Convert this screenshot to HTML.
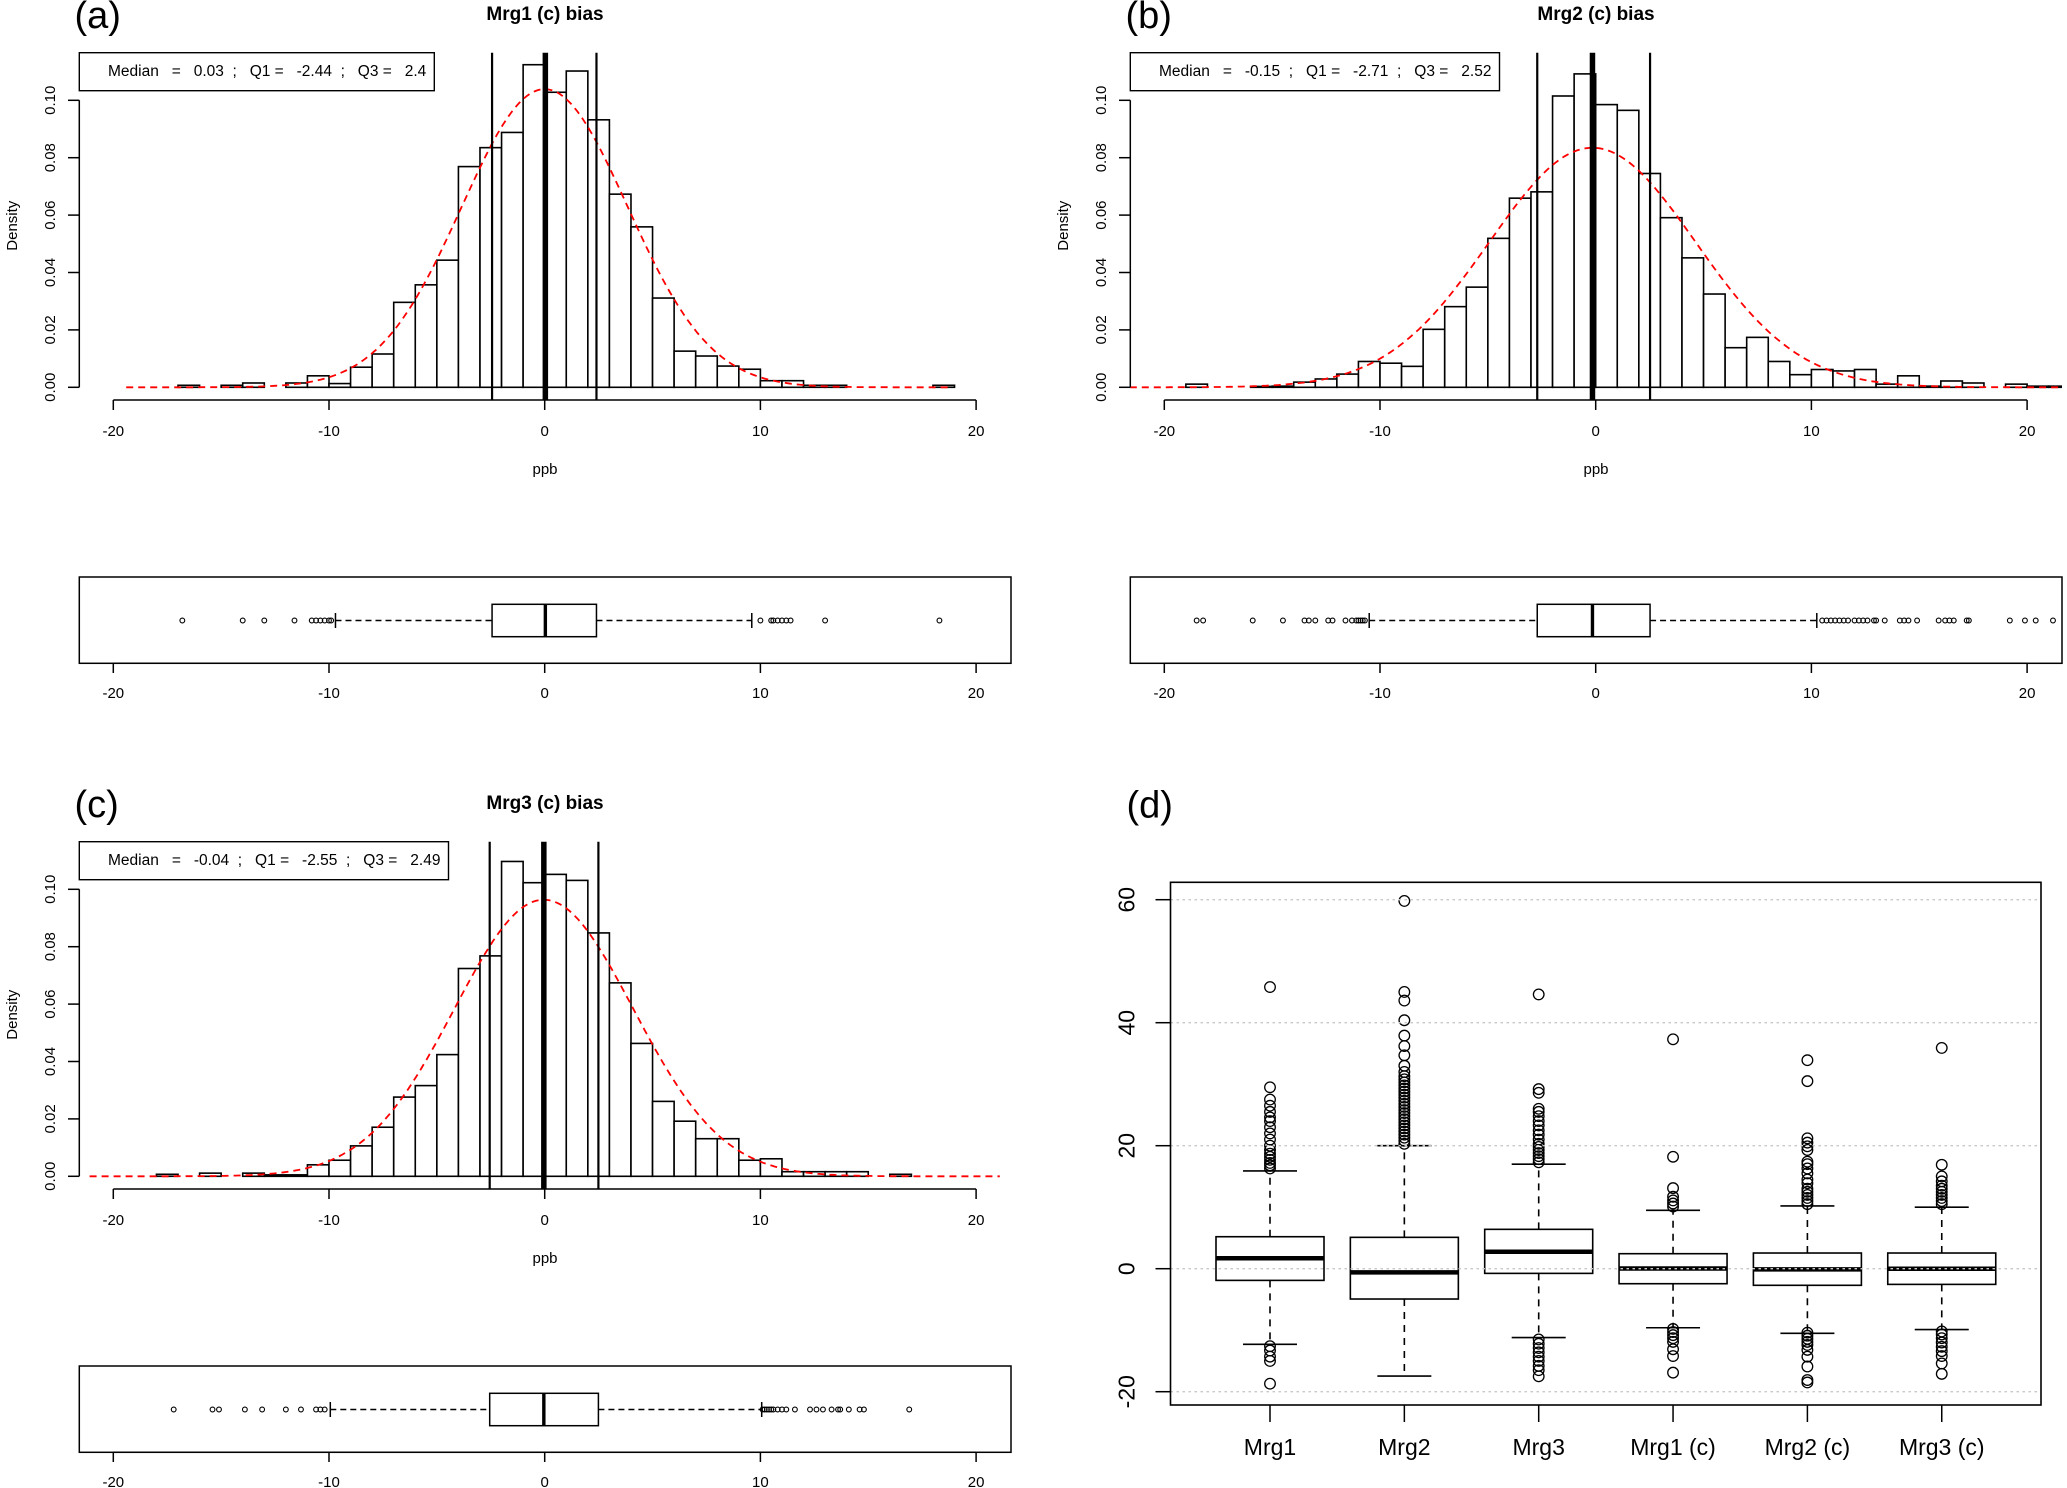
<!DOCTYPE html>
<html><head><meta charset="utf-8">
<style>
html,body{margin:0;padding:0;background:#fff;}
svg{display:block;font-family:"Liberation Sans",Arial,sans-serif;}
svg text{white-space:pre;}
</style></head>
<body>
<svg id="fig" width="2067" height="1488" viewBox="0 0 2067 1488" xmlns="http://www.w3.org/2000/svg">
<rect x="0" y="0" width="2067" height="1488" fill="#fff"/>
</svg>
<script>
// ---------- data: panel (a) Mrg1 (c) ----------
const histA_start = -17;
const histA_density = [0.0007,0,0.0007,0.0015,0,0.0015,0.004,0.0013,0.007,0.0116,0.0296,0.0357,0.0443,0.0769,0.0835,0.0888,0.1124,0.1028,0.1102,0.0932,0.0673,0.0559,0.0311,0.0126,0.0109,0.0074,0.0063,0.0023,0.0023,0.0007,0.0007,0,0,0,0,0.0007,0,0];
const statsA = [0.03, -2.44, 2.4];          // median, Q1, Q3
const normA = [0.0, 3.84, -19.4, 18.8];      // mean, sd, from, to
const whiskA = [-9.7, 9.6];
const outA = [-16.8,-14.0,-13.0,-11.6,-10.8,-10.6,-10.4,-10.2,-10.0,-9.9,10.0,10.5,10.6,10.8,11.0,11.2,11.4,13.0,18.3];

// ---------- data: panel (b) Mrg2 (c) ----------
const histB_start = -19;
const histB_density = [0.0011,0,0,0.0003,0.0004,0.0018,0.0029,0.0046,0.009,0.0084,0.0073,0.0202,0.0281,0.0349,0.0519,0.0659,0.0681,0.1015,0.1092,0.0985,0.0965,0.0745,0.0591,0.0451,0.0325,0.0138,0.0174,0.009,0.0044,0.0062,0.0057,0.0062,0.0011,0.004,0.0004,0.0022,0.0015,0,0.0011,0.0004,0.0004];
const statsB = [-0.15, -2.71, 2.52];
const normB = [-0.15, 4.78, -21.6, 21.6];
const whiskB = [-10.5, 10.25];
const outB = [-18.5,-18.2,-15.9,-14.5,-13.5,-13.3,-13.0,-12.4,-12.2,-11.6,-11.3,-11.1,-11.0,-10.9,-10.8,-10.7,10.5,10.7,10.9,11.1,11.3,11.5,11.7,12.0,12.2,12.4,12.6,12.9,13.0,13.4,14.1,14.3,14.5,14.9,15.9,16.2,16.4,16.6,17.2,17.3,19.2,19.9,20.4,21.2];

// ---------- data: panel (c) Mrg3 (c) ----------
const histC_start = -18;
const histC_density = [0.0007,0,0.0011,0,0.0011,0.0005,0.0005,0.004,0.0056,0.0106,0.0171,0.0276,0.0316,0.0424,0.0724,0.0768,0.1097,0.1023,0.1052,0.1031,0.0848,0.0674,0.0463,0.0261,0.0192,0.0131,0.0131,0.0056,0.0061,0.0016,0.0016,0.0016,0.0016,0,0.0007,0,0,0,0,0];
const statsC = [-0.04, -2.55, 2.49];
const normC = [-0.04, 4.14, -21.1, 21.1];
const whiskC = [-9.94, 10.06];
const outC = [-17.2,-15.4,-15.1,-13.9,-13.1,-12.0,-11.3,-10.6,-10.4,-10.2,10.1,10.2,10.3,10.4,10.5,10.6,10.8,11.0,11.2,11.6,12.3,12.6,12.9,13.3,13.6,13.7,14.1,14.6,14.8,16.9];

const xTicks = [-20,-10,0,10,20];
const yTicks = [0,0.02,0.04,0.06,0.08,0.10];
const yTickLabels = ["0.00","0.02","0.04","0.06","0.08","0.10"];

// ---------- data: panel (d) ----------
const dCats = ["Mrg1","Mrg2","Mrg3","Mrg1 (c)","Mrg2 (c)","Mrg3 (c)"];
const dQ1 = [-1.9,-4.93,-0.76,-2.44,-2.7,-2.55];
const dMed = [1.7,-0.6,2.75,0.03,-0.1,0.0];
const dQ3 = [5.2,5.1,6.4,2.44,2.55,2.55];
const dLo = [-12.3,-17.45,-11.2,-9.6,-10.5,-9.9];
const dHi = [15.9,20.0,17.0,9.5,10.2,10.0];
const dOut0 = [-12.6,-13.3,-14.3,-15,-18.7,16.3,16.8,17.2,17.7,18.2,18.7,19.3,20,21,22,23,24,24.6,25.5,26.5,27.5,29.5,45.8];
const dOut1 = [20.3,20.8,21.3,21.8,22.3,22.8,23.3,23.8,24.3,24.8,25.3,25.8,26.3,26.8,27.3,27.8,28.3,28.8,29.3,29.8,30.3,30.8,31.3,32,33,34.7,36.2,37.9,40.4,43.6,45,59.8];
const dOut2 = [17.3,17.8,18.3,18.8,19.3,19.8,20.3,21,21.8,22.5,23.3,24,24.8,25.5,26,28.6,29.2,44.6,-11.5,-12.2,-12.9,-13.6,-14.3,-15,-15.8,-16.5,-17.5];
const dOut3 = [10.1,10.6,11.1,11.7,13.1,18.2,37.3,-9.8,-10.3,-10.8,-11.3,-11.9,-13.1,-14.2,-16.9];
const dOut4 = [10.5,11,11.5,12,12.5,13,13.9,14.5,15.5,16.3,17,17.4,19.3,19.9,20.5,21.2,30.5,33.9,-10.4,-10.9,-11.4,-11.9,-12.4,-13.2,-14.3,-15.9,-18.1,-18.5];
const dOut5 = [10.5,11,11.5,12,12.5,13,13.5,14.2,15,16.9,35.9,-10.2,-10.7,-11.3,-12,-12.7,-13.4,-14.2,-15.4,-17.1];
const dOutliers = [dOut0,dOut1,dOut2,dOut3,dOut4,dOut5];
const dYTicks = [-20,0,20,40,60];

// ---------- helpers ----------
const NS = "http://www.w3.org/2000/svg";
const svg = document.getElementById("fig");
function mk(parent, tag, attrs, name) {
  const el = document.createElementNS(NS, tag);
  for (const k in attrs) el.setAttribute(k, attrs[k]);
  
  
  parent.appendChild(el);
  return el;
}
function txt(parent, x, y, s, size, name, extra) {
  const t = mk(parent, "text", Object.assign({x:x, y:y, "font-size":size, fill:"#000"}, extra || {}), name);
  t.textContent = s;
  return t;
}

// ---------- histogram panels ----------
function histPanel(id, dx, dy, label, title, start, dens, stats, norm, whisk, outs, legendRight, legendText) {
  const g = mk(svg, "g", {transform:"translate(" + dx + "," + dy + ")"}, "panel-" + id);
  const X = v => 544.7 + 21.57 * v;
  const Y = d => 387.3 - 2870 * d;
  const BY = 620.5;
  const plotL = 79.3, plotR = 1011;
  const cp = mk(g, "clipPath", {id:"clip-" + id}, "clip");
  mk(cp, "rect", {x:plotL, y:0, width:plotR - plotL, height:420}, "clip-rect");
  txt(g, 74.5, 28, label, 38, "panel-label");
  txt(g, 545, 20, title, 19, "panel-title", {"font-weight":"bold", "text-anchor":"middle"});
  const bars = mk(g, "g", {"clip-path":"url(#clip-" + id + ")"}, "histogram-bars");
  dens.forEach((d, i) => {
    const x0 = X(start + i), x1 = X(start + i + 1);
    mk(bars, "rect", {x:x0, y:Y(d), width:x1 - x0, height:Math.max(0, Y(0) - Y(d)), fill:"#fff", stroke:"#000", "stroke-width":1.6}, "histogram-bar");
  });
  let pts = [];
  for (let k = 0; k <= 300; k++) {
    const v = norm[2] + (norm[3] - norm[2]) * k / 300;
    const d = Math.exp(-0.5 * Math.pow((v - norm[0]) / norm[1], 2)) / (norm[1] * Math.sqrt(2 * Math.PI));
    pts.push(X(v).toFixed(1) + "," + Y(d).toFixed(1));
  }
  mk(g, "polyline", {points:pts.join(" "), fill:"none", stroke:"#ff0000", "stroke-width":1.8, "stroke-dasharray":"7,5", "clip-path":"url(#clip-" + id + ")"}, "normal-density-curve");
  mk(g, "line", {x1:X(stats[1]), x2:X(stats[1]), y1:52.7, y2:400, stroke:"#000", "stroke-width":2.2}, "q1-line");
  mk(g, "line", {x1:X(stats[2]), x2:X(stats[2]), y1:52.7, y2:400, stroke:"#000", "stroke-width":2.2}, "q3-line");
  mk(g, "line", {x1:X(stats[0]), x2:X(stats[0]), y1:52.7, y2:400, stroke:"#000", "stroke-width":5.5}, "median-line");
  mk(g, "rect", {x:79.3, y:52.7, width:legendRight - 79.3, height:38, fill:"#fff", stroke:"#000", "stroke-width":1.4}, "stats-legend-box");
  txt(g, 108, 76, legendText, 15.5, "stats-legend-text", {textLength:legendRight - 8 - 108, lengthAdjust:"spacingAndGlyphs"});
  mk(g, "line", {x1:plotL, x2:plotL, y1:Y(0), y2:Y(0.10), stroke:"#000", "stroke-width":1.5}, "y-axis-line");
  yTicks.forEach((v, i) => {
    mk(g, "line", {x1:68, x2:plotL, y1:Y(v), y2:Y(v), stroke:"#000", "stroke-width":1.5}, "y-tick");
    txt(g, 0, 0, yTickLabels[i], 15, "y-tick-label", {"text-anchor":"middle", transform:"translate(55," + Y(v) + ") rotate(-90)"});
  });
  txt(g, 0, 0, "Density", 15, "y-axis-title", {"text-anchor":"middle", transform:"translate(17,225.7) rotate(-90)"});
  mk(g, "line", {x1:X(-20), x2:X(20), y1:400, y2:400, stroke:"#000", "stroke-width":1.5}, "x-axis-line");
  xTicks.forEach(v => {
    mk(g, "line", {x1:X(v), x2:X(v), y1:400, y2:410, stroke:"#000", "stroke-width":1.5}, "x-tick");
    txt(g, X(v), 436, String(v), 15, "x-tick-label", {"text-anchor":"middle"});
  });
  txt(g, 545, 474, "ppb", 15, "x-axis-title", {"text-anchor":"middle"});
  const bp = mk(g, "g", {}, "horizontal-boxplot");
  mk(bp, "rect", {x:plotL, y:577, width:plotR - plotL, height:86.3, fill:"none", stroke:"#000", "stroke-width":1.5}, "boxplot-frame");
  mk(bp, "line", {x1:X(whisk[0]), x2:X(stats[1]), y1:BY, y2:BY, stroke:"#000", "stroke-width":1.4, "stroke-dasharray":"6,4"}, "lower-whisker");
  mk(bp, "line", {x1:X(stats[2]), x2:X(whisk[1]), y1:BY, y2:BY, stroke:"#000", "stroke-width":1.4, "stroke-dasharray":"6,4"}, "upper-whisker");
  mk(bp, "line", {x1:X(whisk[0]), x2:X(whisk[0]), y1:BY - 7.5, y2:BY + 7.5, stroke:"#000", "stroke-width":1.5}, "lower-whisker-cap");
  mk(bp, "line", {x1:X(whisk[1]), x2:X(whisk[1]), y1:BY - 7.5, y2:BY + 7.5, stroke:"#000", "stroke-width":1.5}, "upper-whisker-cap");
  mk(bp, "rect", {x:X(stats[1]), y:604.3, width:X(stats[2]) - X(stats[1]), height:32.4, fill:"#fff", stroke:"#000", "stroke-width":1.5}, "box");
  mk(bp, "line", {x1:X(stats[0]), x2:X(stats[0]), y1:604.3, y2:636.7, stroke:"#000", "stroke-width":3.4}, "box-median");
  outs.forEach(v => {
    mk(bp, "circle", {cx:X(v), cy:BY, r:2.4, fill:"none", stroke:"#000", "stroke-width":1.1}, "outlier-point");
  });
  mk(bp, "line", {x1:X(-20), x2:X(20), y1:663.3, y2:663.3, stroke:"#000", "stroke-width":1.5}, "boxplot-x-axis");
  xTicks.forEach(v => {
    mk(bp, "line", {x1:X(v), x2:X(v), y1:663.3, y2:673, stroke:"#000", "stroke-width":1.5}, "boxplot-x-tick");
    txt(bp, X(v), 698, String(v), 15, "boxplot-x-tick-label", {"text-anchor":"middle"});
  });
}

histPanel("a", 0, 0, "(a)", "Mrg1 (c) bias", histA_start, histA_density, statsA, normA, whiskA, outA, 434.3,
  "Median   =   0.03  ;   Q1 =   -2.44  ;   Q3 =   2.4");
histPanel("b", 1051, 0, "(b)", "Mrg2 (c) bias", histB_start, histB_density, statsB, normB, whiskB, outB, 448.5,
  "Median   =   -0.15  ;   Q1 =   -2.71  ;   Q3 =   2.52");
histPanel("c", 0, 789, "(c)", "Mrg3 (c) bias", histC_start, histC_density, statsC, normC, whiskC, outC, 448.5,
  "Median   =   -0.04  ;   Q1 =   -2.55  ;   Q3 =   2.49");

// ---------- panel (d) ----------
(function(){
  const g = mk(svg, "g", {}, "panel-d");
  const L = 1170.5, R = 2041, T = 882.3, B = 1405;
  const Y = v => 1268.7 - 6.15 * v;
  const X = i => 1270 + 134.35 * i;
  txt(g, 1126.5, 817.7, "(d)", 38, "panel-label");
  dCats.forEach((c, i) => {
    const cx = X(i);
    mk(g, "line", {x1:cx, x2:cx, y1:Y(dQ3[i]), y2:Y(dHi[i]), stroke:"#000", "stroke-width":1.6, "stroke-dasharray":"7,6"}, "upper-whisker");
    mk(g, "line", {x1:cx, x2:cx, y1:Y(dQ1[i]), y2:Y(dLo[i]), stroke:"#000", "stroke-width":1.6, "stroke-dasharray":"7,6"}, "lower-whisker");
    mk(g, "line", {x1:cx - 27, x2:cx + 27, y1:Y(dHi[i]), y2:Y(dHi[i]), stroke:"#000", "stroke-width":1.6}, "upper-whisker-cap");
    mk(g, "line", {x1:cx - 27, x2:cx + 27, y1:Y(dLo[i]), y2:Y(dLo[i]), stroke:"#000", "stroke-width":1.6}, "lower-whisker-cap");
    mk(g, "rect", {x:cx - 54, y:Y(dQ3[i]), width:108, height:Y(dQ1[i]) - Y(dQ3[i]), fill:"#fff", stroke:"#000", "stroke-width":1.6}, "box-" + (i + 1));
    mk(g, "line", {x1:cx - 54, x2:cx + 54, y1:Y(dMed[i]), y2:Y(dMed[i]), stroke:"#000", "stroke-width":4.5}, "box-median");
    dOutliers[i].forEach(v => {
      mk(g, "circle", {cx:cx, cy:Y(v), r:5.3, fill:"none", stroke:"#000", "stroke-width":1.3}, "outlier-point");
    });
    mk(g, "line", {x1:cx, x2:cx, y1:B, y2:B + 17, stroke:"#000", "stroke-width":1.5}, "x-tick");
    txt(g, cx, 1455, c, 23, "x-tick-label", {"text-anchor":"middle"});
  });
  dYTicks.forEach(v => {
    mk(g, "line", {x1:L, x2:R, y1:Y(v), y2:Y(v), stroke:"#c8c8c8", "stroke-width":1.3, "stroke-dasharray":"2.5,3.5"}, "grid-line");
    mk(g, "line", {x1:L - 15, x2:L, y1:Y(v), y2:Y(v), stroke:"#000", "stroke-width":1.5}, "y-tick");
    txt(g, 0, 0, String(v), 23, "y-tick-label", {"text-anchor":"middle", transform:"translate(1134.5," + Y(v) + ") rotate(-90)"});
  });
  mk(g, "rect", {x:L, y:T, width:R - L, height:B - T, fill:"none", stroke:"#000", "stroke-width":1.6}, "plot-frame");
})();
</script>
</body></html>
